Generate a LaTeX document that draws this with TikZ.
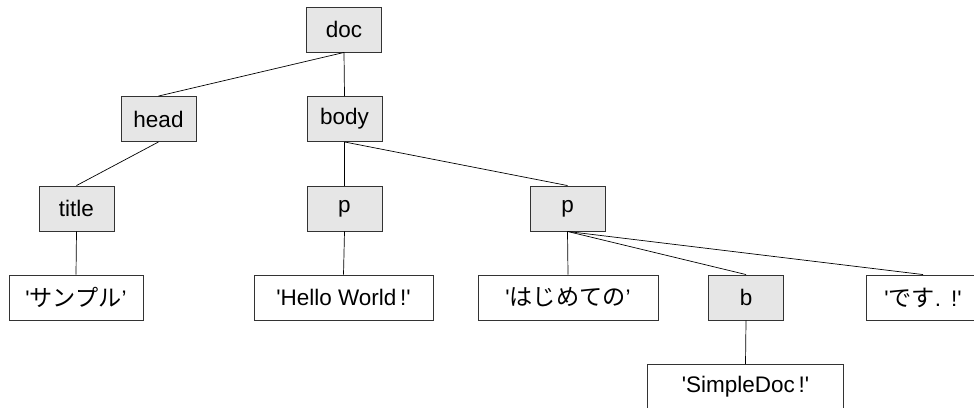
\documentclass[tikz,border=0pt]{standalone}
\usepackage{fontspec}
\setmainfont{Liberation Sans}
\newfontfamily\jp[Scale=1.03]{Noto Sans CJK JP}
\newcommand{\q}{\textquotesingle}
\definecolor{boxgray}{HTML}{E6E6E6}
\definecolor{edgegray}{HTML}{333333}
\tikzset{
  elem/.style={draw=edgegray, fill=boxgray, line width=0.9pt, minimum width=75pt, minimum height=45pt, inner sep=0pt, font=\fontsize{22.5}{24}\selectfont},
  txt/.style={draw=edgegray, fill=white, line width=0.9pt, minimum height=45pt, inner sep=0pt, font=\fontsize{22.5}{24}\selectfont},
  link/.style={draw=black, line width=0.7pt}
}
\begin{document}
\begin{tikzpicture}[x=1pt,y=-1pt]
\useasboundingbox (0,0) rectangle (974,407);
\node[elem] (doc) at (344,29.5) {doc};
\node[elem] (head) at (158.5,119) {head};
\node[elem] (body) at (344.5,119) {body};
\node[elem] (title) at (76.5,208.5) {title};
\node[elem] (p1) at (344.5,208.5) {p};
\node[elem] (p2) at (567.5,208.5) {p};
\node[txt, minimum width=134pt] (sample) at (76,297.5) {\q{\jp サンプル}’};
\node[txt, minimum width=179pt] (hello) at (343.5,297.5) {\q Hello World\,!\q};
\node[txt, minimum width=180pt] (hajime) at (568,297.5) {\q{\jp はじめての}’};
\node[elem] (b) at (746,297.5) {b};
\node[txt, minimum width=114pt] (desu) at (923,297.5) {\q{\jp です}.\ \,!\q};
\node[txt, minimum width=196pt] (simple) at (745.5,387) {\q SimpleDoc\,!\q};
\draw[link] (doc.south) -- (head.north);
\draw[link] (doc.south) -- (body.north);
\draw[link] (head.south) -- (title.north);
\draw[link] (body.south) -- (p1.north);
\draw[link] (body.south) -- (p2.north);
\draw[link] (title.south) -- (sample.north);
\draw[link] (p1.south) -- (hello.north);
\draw[link] (p2.south) -- (hajime.north);
\draw[link] (p2.south) -- (b.north);
\draw[link] (p2.south) -- (desu.north);
\draw[link] (b.south) -- (simple.north);
\end{tikzpicture}
\end{document}
